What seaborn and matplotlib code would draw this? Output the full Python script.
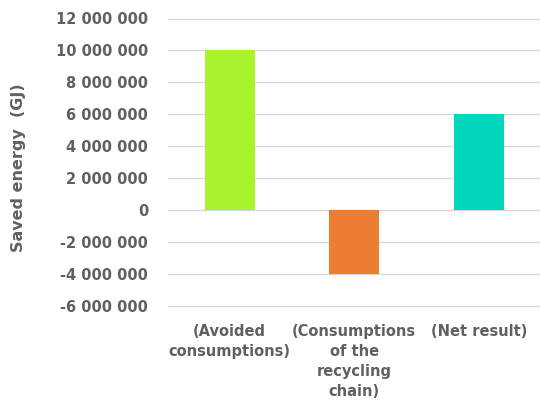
import matplotlib
matplotlib.use("Agg")
import matplotlib.pyplot as plt
import matplotlib.ticker as mticker
import seaborn as sns
import pandas as pd

categories = ["(Avoided\nconsumptions)", "(Consumptions\nof the\nrecycling\nchain)", "(Net result)"]
saved_energy = [10_000_000, -4_000_000, 6_000_000]
bar_colors = ["#abf22e", "#ed7d31", "#00d6bb"]
y_ticks = [-6_000_000, -4_000_000, -2_000_000, 0, 2_000_000, 4_000_000,
           6_000_000, 8_000_000, 10_000_000, 12_000_000]

df = pd.DataFrame({"category": categories, "value": saved_energy})

sns.set_style("white")
plt.rcParams["font.family"] = ["DejaVu Sans"]
text_color = "#606060"
fs = 10.5

fig = plt.figure(figsize=(5.40, 4.01), dpi=100)
ax_left, ax_right, ax_top, ax_bottom = 167.5, 541, 18.5, 306
ax = fig.add_axes([ax_left / 540, 1 - ax_bottom / 401,
                   (ax_right - ax_left) / 540, (ax_bottom - ax_top) / 401])

sns.barplot(data=df, x="category", y="value", hue="category", palette=bar_colors,
            width=0.4, legend=False, ax=ax, saturation=1, linewidth=0)

ax.set_ylim(-6_000_000, 12_000_000)
ax.set_yticks(y_ticks)
ax.yaxis.set_major_formatter(mticker.FuncFormatter(lambda v, p: f"{int(v):,}".replace(",", " ")))
ax.grid(axis="y", color="#d9d9d9", linewidth=1.0)
for gl in ax.yaxis.get_gridlines():
    gl.set_clip_on(False)
ax.set_axisbelow(True)
for s in ax.spines.values():
    s.set_visible(False)

ax.tick_params(axis="y", length=0, pad=14, labelsize=fs, labelcolor=text_color)
ax.tick_params(axis="x", length=0, pad=13, labelsize=fs, labelcolor=text_color)
for lbl in ax.get_yticklabels():
    lbl.set_fontweight("bold")
for lbl in ax.get_xticklabels():
    lbl.set_linespacing(1.42)
    lbl.set_verticalalignment("top")
    lbl.set_fontweight("bold")

ax.set_xlabel("")
ax.set_ylabel("Saved energy  (GJ)", fontsize=11.5, color=text_color, fontweight="bold")
ax.yaxis.set_label_coords((26 - ax_left) / (ax_right - ax_left), (ax_bottom - 168) / (ax_bottom - ax_top))

fig.savefig("out.png", dpi=100, facecolor="white")
